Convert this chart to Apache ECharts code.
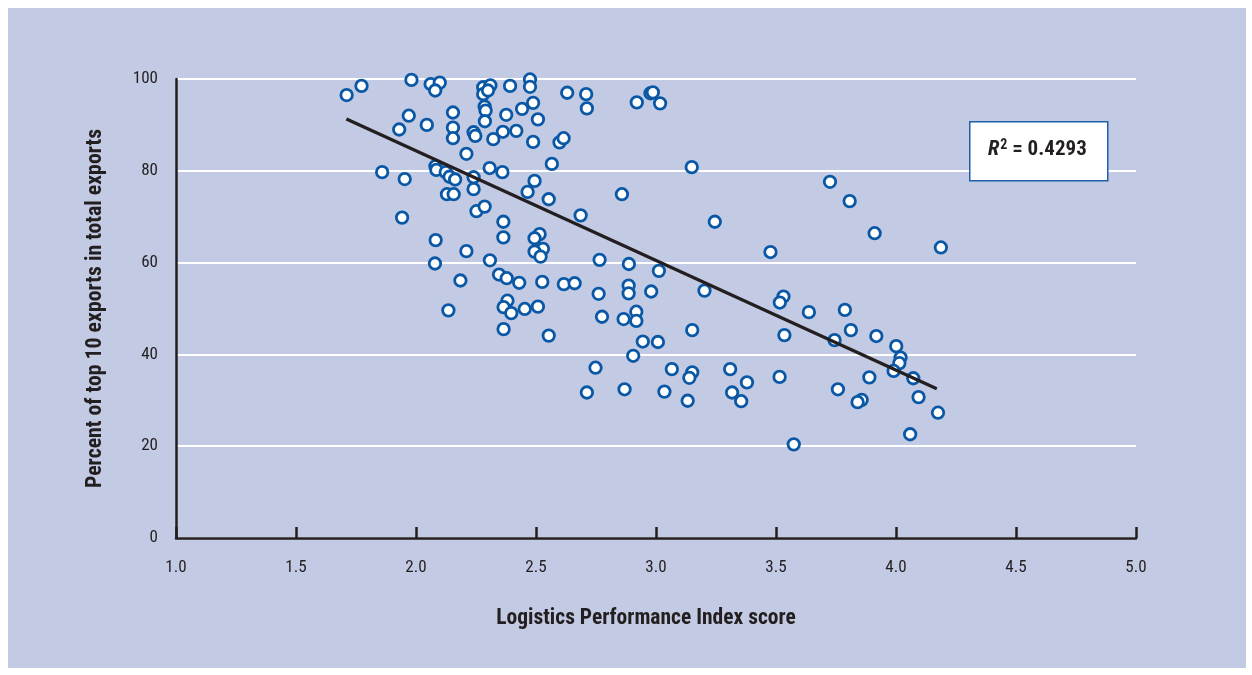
<!DOCTYPE html>
<html>
<head>
<meta charset="utf-8">
<script src="https://cdn.jsdelivr.net/npm/echarts@6/dist/echarts.min.js"></script>
<style>
html,body{margin:0;padding:0;background:#ffffff;width:1252px;height:675px;overflow:hidden;}
#chart{position:absolute;left:8px;top:8px;width:1238px;height:660px;}
</style>
</head>
<body>
<div id="chart"></div>
<script>
const lpiScore = [
1.711,1.773,1.981,2.061,2.099,2.080,2.280,2.310,2.280,2.300,2.392,2.475,2.475,
1.970,2.154,2.286,2.290,2.376,2.442,1.930,2.045,2.154,2.154,2.240,2.247,2.287,
2.322,2.362,2.418,2.210,1.859,1.953,2.081,2.085,2.124,2.140,2.163,2.240,2.240,
2.307,2.360,2.129,2.157,2.252,2.286,1.942,2.364,2.465,2.630,2.709,2.712,2.920,
2.977,2.987,3.017,2.488,2.508,2.488,2.598,2.615,2.566,3.149,2.494,2.553,2.858,
2.686,3.245,2.082,2.210,2.079,2.308,2.364,2.185,2.346,2.378,2.430,2.135,2.381,
2.365,2.397,2.453,2.365,2.515,2.494,2.529,2.494,2.519,2.765,2.887,3.012,3.202,
2.526,2.616,2.661,2.761,2.886,2.886,2.980,2.508,2.775,2.865,2.918,2.918,3.151,
2.553,2.945,3.008,2.905,2.748,3.066,3.151,3.139,2.712,2.869,3.035,3.132,3.725,
3.807,3.911,4.187,3.477,3.531,3.516,3.637,3.787,3.535,3.812,3.744,3.918,4.001,
4.019,4.014,3.990,4.072,3.889,3.309,3.379,3.317,3.355,3.515,3.758,3.857,3.840,
4.094,4.175,4.059,3.574
];
const top10Share = [
96.5,98.5,99.8,98.9,99.2,97.5,98.2,98.6,96.7,97.5,98.5,99.9,98.3,
92.0,92.7,94.0,93.1,92.2,93.5,89.0,90.0,89.4,87.1,88.4,87.6,90.8,
86.9,88.5,88.7,83.7,79.7,78.2,81.0,80.2,79.7,78.7,78.1,78.6,76.0,
80.6,79.7,74.9,74.9,71.2,72.2,69.8,68.9,75.4,97.0,96.7,93.6,94.9,
96.9,97.1,94.7,94.8,91.2,86.3,86.2,87.1,81.5,80.8,77.8,73.8,74.9,
70.3,68.9,64.9,62.5,59.8,60.5,65.5,56.1,57.4,56.6,55.6,49.6,51.7,
50.3,49.0,49.9,45.5,66.2,65.3,63.0,62.4,61.3,60.6,59.7,58.2,53.9,
55.8,55.3,55.5,53.2,55.0,53.3,53.7,50.4,48.2,47.7,49.3,47.3,45.3,
44.1,42.8,42.7,39.7,37.1,36.8,36.1,34.9,31.7,32.4,31.9,29.9,77.6,
73.4,66.4,63.3,62.3,52.6,51.3,49.2,49.7,44.2,45.3,43.1,44.0,41.8,
39.3,38.1,36.4,34.8,35.0,36.8,33.9,31.7,29.8,35.1,32.4,30.1,29.6,
30.7,27.3,22.6,20.4
];
const trendX = [1.71, 4.17];
const trendY = [91.3, 32.5];
const xTicks = [1.0, 1.5, 2.0, 2.5, 3.0, 3.5, 4.0, 4.5, 5.0];
const yTicks = [0, 20, 40, 60, 80, 100];
const r2Text = '0.4293';
const xTitle = 'Logistics Performance Index score';
const yTitle = 'Percent of top 10 exports in total exports';

const FONT = "'Liberation Sans Narrow','Arial Narrow','Roboto Condensed','Liberation Sans',sans-serif";
const chart = echarts.init(document.getElementById('chart'));
const points = lpiScore.map((x, i) => [x, top10Share[i]]);
const trend = trendX.map((x, i) => [x, trendY[i]]);

chart.setOption({
  backgroundColor: '#c3cae3',
  animation: false,
  grid: {left: 168, right: 110, top: 71, bottom: 130, containLabel: false},
  xAxis: {
    type: 'value', min: 1.0, max: 5.0, interval: 0.5,
    name: xTitle, nameLocation: 'middle', nameGap: 70,
    nameTextStyle: {fontFamily: FONT, fontWeight: 'bold', fontSize: 21.5, color: '#231f20', padding: [0, 20, 0, 0]},
    axisLine: {show: true, onZero: false, lineStyle: {color: '#231f20', width: 2.5}},
    axisTick: {show: true, inside: true, length: 11, lineStyle: {color: '#231f20', width: 2.5}},
    axisLabel: {margin: 21, fontFamily: FONT, fontSize: 17, color: '#231f20',
      formatter: v => xTicks.includes(+v.toFixed(1)) ? v.toFixed(1) : ''},
    splitLine: {show: false}
  },
  yAxis: {
    type: 'value', min: 0, max: 100, interval: 20,
    name: yTitle, nameLocation: 'middle', nameGap: 69,
    nameTextStyle: {fontFamily: FONT, fontWeight: 'bold', fontSize: 21.8, color: '#231f20'},
    axisLine: {show: true, onZero: false, lineStyle: {color: '#231f20', width: 2.5}},
    axisTick: {show: false},
    axisLabel: {margin: 18, fontFamily: FONT, fontSize: 17, color: '#231f20',
      formatter: v => yTicks.includes(v) ? String(v) : ''},
    splitLine: {show: true, lineStyle: {color: '#ffffff', width: 2}}
  },
  graphic: [
    {type: 'rect', left: 961, top: 113, shape: {width: 138, height: 59},
     style: {fill: '#ffffff', stroke: '#1f5ea8', lineWidth: 1.5}, z: 100},
    {type: 'text', left: 980, top: 130, z: 101,
     style: {
       text: '{r|R}{s|2}{t| = ' + r2Text + '}',
       rich: {
         r: {fontFamily: FONT, fontWeight: 'bold', fontStyle: 'italic', fontSize: 21, fill: '#231f20', lineHeight: 24},
         s: {fontFamily: FONT, fontWeight: 'bold', fontSize: 14, fill: '#231f20', lineHeight: 24, padding: [0, 0, 10, 1]},
         t: {fontFamily: FONT, fontWeight: 'bold', fontSize: 21, fill: '#231f20', lineHeight: 24}
       }
     }}
  ],
  series: [
    {
      type: 'scatter', data: points, symbol: 'circle', symbolSize: 11.5,
      itemStyle: {color: '#ffffff', borderColor: '#0a58a5', borderWidth: 2.8, opacity: 1},
      z: 3
    },
    {
      type: 'line', data: trend, symbol: 'none', silent: true,
      lineStyle: {color: '#231f20', width: 3.2}, z: 4
    }
  ]
});
</script>
</body>
</html>
